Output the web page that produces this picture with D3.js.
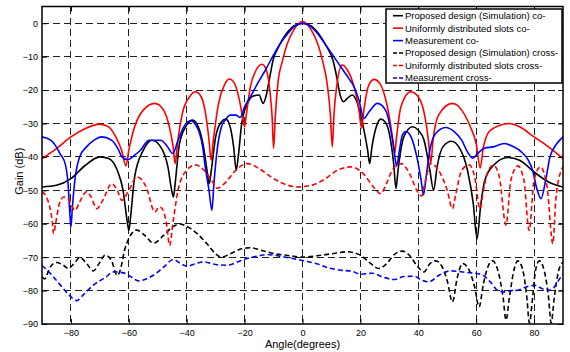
<!DOCTYPE html>
<html>
<head>
<meta charset="utf-8">
<script src="https://cdn.jsdelivr.net/npm/d3@7"></script>
<style>
  body { margin: 0; background: #fff; }
  svg { font-family: "Liberation Sans", Arial, sans-serif; }
</style>
</head>
<body>
<svg width="570" height="352"></svg>
<script>
'use strict'

// angle ticks / gain ticks
const xTicks = [-80, -60, -40, -20, 0, 20, 40, 60, 80]
const yTicks = [0, -10, -20, -30, -40, -50, -60, -70, -80, -90]

// [angle, gain dB]
const simCo = [[-90,-49],[-85,-48.5],[-80,-46.5],[-75,-42.5],[-70,-40],[-67,-40.5],[-64,-44],[-62,-50],[-60.6,-59],[-60,-62],[-59.4,-58],[-58,-46],[-55,-38],[-52,-35],[-49,-37],[-46.5,-43],[-45.2,-50],[-44.6,-52],[-44,-48],[-42.5,-36],[-40,-30.5],[-38,-29],[-36,-31],[-34,-38],[-33,-44],[-32.2,-48],[-31.5,-44],[-30,-34],[-28,-29.5],[-26.5,-28.7],[-25,-31],[-23.8,-37],[-22.9,-44],[-22.2,-40],[-21,-30],[-19,-24],[-17,-21.8],[-15,-21.5],[-13.6,-24],[-12.5,-21.5],[-11.5,-17],[-10,-10.5],[-8.5,-7.5],[-7,-5],[-5,-2.5],[-3,-0.8],[0,0],[3,-0.8],[5,-2.5],[7,-5],[9,-8],[10.5,-11],[11.8,-16],[13,-21.5],[14.2,-23.5],[15.5,-22.5],[17.2,-21.5],[19,-24],[21,-31],[22.5,-38],[23.2,-42],[24,-37],[25.5,-31],[27,-28.7],[28.5,-29.5],[30,-33],[31.5,-42],[32.3,-49.5],[33,-44],[35,-34],[38,-31],[40,-32],[42,-35],[44,-44],[45.3,-50],[46.5,-43],[48.5,-37],[51.5,-35.3],[54,-37],[57,-44],[59,-54],[60.3,-64.5],[61.5,-55],[63,-47],[66,-42.5],[71,-40.2],[75,-41],[80,-44.5],[85,-47.5],[90,-49]]
const uniCo = [[-90,-40.5],[-85,-37.5],[-80,-34],[-75,-31.5],[-70,-30.2],[-67,-31],[-64.5,-34],[-62.5,-38],[-61,-42.7],[-60,-38],[-58,-31],[-55,-26],[-51,-24],[-48,-26],[-46,-31],[-44.7,-37],[-44,-42],[-43.2,-36],[-41.5,-27],[-39,-22],[-37,-20.5],[-35,-22],[-33.5,-27],[-32.3,-35],[-31.6,-41],[-30.8,-35],[-29,-24],[-27,-18.5],[-25.3,-16.7],[-23.5,-18],[-21.8,-23],[-20.5,-29],[-20,-31],[-19.5,-28],[-18,-19],[-16,-14],[-14,-12.3],[-12.5,-14],[-11.3,-20],[-10.5,-28],[-10,-37.4],[-9.4,-28],[-8.5,-18],[-7,-11.5],[-5.2,-6],[-3,-2],[0,0.5],[3,-2],[5.2,-6],[7,-11.5],[8.5,-18],[9.6,-27],[10.3,-37],[10.9,-27],[11.8,-19],[13.7,-12.5],[15.5,-14],[17.5,-18],[19.5,-26],[20.4,-31.4],[21.2,-26],[22.7,-19],[24.7,-16.8],[26.7,-18],[28.5,-22],[30,-28],[31.2,-35],[31.8,-39],[32.5,-34],[34,-25],[37.4,-20.5],[40,-22],[42.3,-28],[43.5,-35],[44.3,-41.9],[45.1,-35],[47,-27.5],[51.8,-24],[55,-26],[58,-31],[60,-36],[61.4,-43.3],[62.5,-37],[65,-32],[71.4,-30],[75,-31],[80,-34],[85,-37],[90,-40.5]]
const measCo = [[-90,-34],[-87,-35],[-85.5,-36.4],[-83.8,-39],[-82,-42],[-81,-48],[-80.3,-58],[-80,-61],[-79.5,-55],[-78.5,-46],[-77,-40],[-74.6,-37],[-72,-35],[-69.4,-34],[-66,-35],[-63.5,-38],[-62.4,-40],[-60.5,-40.8],[-58,-39.5],[-56,-38],[-53,-35],[-49,-35],[-47,-36.5],[-44.8,-39],[-43,-35],[-41,-31],[-38.8,-29.2],[-36.5,-31],[-34.5,-37],[-33.6,-43],[-32.3,-50],[-31.3,-56],[-30.6,-48],[-29.5,-38],[-28,-31],[-26.7,-29],[-25,-27.5],[-23,-27.5],[-21.5,-28.2],[-20,-25],[-18,-22],[-15.5,-18],[-12.8,-14],[-10,-9.5],[-7.6,-6],[-5,-3],[-2.5,-0.8],[0,0],[2.5,-0.8],[5.1,-3],[8,-6.5],[10.8,-10],[14,-14],[16,-16.5],[17.8,-19],[19.5,-23],[21.2,-28.5],[23,-26.5],[25.9,-24],[28.7,-26],[30.3,-31],[31.5,-37],[32.5,-42.7],[33.5,-38],[34.5,-33.5],[35.7,-32.4],[37.5,-34],[39.5,-40],[41,-47],[41.8,-51.4],[42.7,-46],[44,-38],[46,-33],[49.5,-31.2],[52.5,-32.5],[55,-35],[57,-38.5],[58.8,-40.4],[60.5,-39],[62.8,-37.4],[66,-37],[69.7,-36],[73,-37],[75.5,-38.4],[78,-41],[79.5,-44],[80.8,-49],[82.4,-52.5],[84,-47],[85.5,-40],[87.5,-36.5],[89.4,-34.5],[90,-34]]
const simCross = [[-90,-76],[-89,-76.5],[-87.5,-73.5],[-85,-71.6],[-82.5,-72.5],[-80.9,-73.4],[-79,-72],[-76.9,-70.1],[-74.5,-72],[-72.3,-74.1],[-70,-71.5],[-68.2,-69.4],[-66,-71],[-64,-75.5],[-63,-74],[-61.5,-68],[-60,-64.4],[-57.3,-61.9],[-54.5,-63.5],[-51.5,-65.8],[-48,-63.5],[-45,-61],[-42.5,-60.1],[-40,-60.8],[-36.5,-62.9],[-33,-66],[-30,-69],[-28,-70],[-25,-69],[-21,-67.5],[-18,-67.2],[-14,-68],[-9.9,-68.9],[-5,-69.5],[0,-70],[5,-69.6],[10,-69],[15.5,-68.4],[20,-69.4],[23,-71.5],[26.4,-73.4],[29,-72],[32,-69],[34.5,-68.2],[37,-69.5],[39.5,-72.5],[42,-74.4],[44,-72],[46,-71.1],[48,-72.5],[50,-77],[51.8,-83.4],[53.5,-76],[55.3,-71.9],[57,-73],[59.5,-79],[61,-84.9],[62.5,-78],[64,-73],[65.7,-71.1],[67.5,-74],[69.3,-82],[70.3,-88.8],[71.5,-82],[73,-74],[74.4,-71.1],[76,-73.5],[77.5,-82],[78.4,-89.7],[79.5,-82],[80.5,-74],[81.8,-71.1],[83.5,-74],[85,-82],[85.9,-89.7],[87,-82],[88.5,-74],[90,-71.5]]
const uniCross = [[-90,-50.4],[-88,-53],[-86.5,-59],[-86,-63],[-85.3,-60],[-84,-54],[-82.5,-52],[-81,-52.4],[-79.5,-55],[-78.6,-56],[-77,-53.5],[-74.6,-50.4],[-73,-52],[-71.1,-55.5],[-69,-53],[-65.9,-48],[-64,-50],[-62.4,-53],[-60,-50],[-57.2,-46],[-54,-49],[-51,-56.5],[-49.5,-55],[-48.6,-55.3],[-47,-60],[-45.9,-66.5],[-44.8,-60],[-43,-50],[-40,-44],[-37,-42.4],[-34,-44],[-31,-47.5],[-29.5,-49.4],[-27,-48],[-23,-44],[-19.2,-42],[-15,-43.5],[-10,-46.5],[-5,-48.5],[-1.8,-49],[3,-48.5],[8,-46.5],[12,-44],[16.6,-43],[21,-45],[24.5,-49],[27,-51],[29,-48],[31,-44],[34,-42],[37,-45],[39.5,-50],[41.1,-51.7],[42.5,-47],[44.3,-42],[47,-44],[50,-50],[51.8,-55.5],[53,-51],[55,-44],[57.6,-42.4],[59.5,-46],[61.3,-55.5],[62.5,-50],[64.5,-43.5],[66,-42.5],[68,-46],[70.3,-60.4],[72,-47],[74.4,-42.7],[76.5,-47],[78.3,-62],[80,-47],[82.2,-43],[84.5,-49],[86.5,-66],[87.5,-53],[89.4,-44],[90,-43]]
const measCross = [[-90,-72.5],[-87,-75],[-84,-78],[-81,-81],[-78,-83],[-76,-81.5],[-72.3,-78.4],[-68,-76],[-65.3,-74.4],[-61.9,-74.7],[-59,-76],[-56.7,-77.1],[-54,-76.5],[-51.5,-75.4],[-48,-73],[-44.6,-70.7],[-42,-72],[-39.9,-72.7],[-37,-72],[-34.2,-71.4],[-30,-72.2],[-26.1,-72.4],[-22,-71.3],[-19.2,-70.4],[-15,-69.6],[-12.2,-69.2],[-8,-69.7],[-4,-70.3],[0,-71],[5,-72],[9,-73.2],[13.2,-73.9],[17,-74.2],[20,-75.1],[24,-74.8],[28,-76],[31.6,-76.7],[35,-75.8],[38.6,-75.7],[41,-76.8],[43.7,-77.4],[47,-75.5],[51.3,-74.1],[56,-74.5],[61.6,-75.1],[65,-77.5],[67.5,-80],[69.7,-80.4],[72,-80],[74.4,-79.9],[77,-79],[80.1,-78.4],[83,-79.5],[85.9,-79.9],[88,-77.5],[90,-75]]

const seriesNames = [
  'Proposed design (Simulation) co-',
  'Uniformly distributed slots co-',
  'Measurement co-',
  'Proposed design (Simulation) cross-',
  'Uniformly distributed slots cross-',
  'Measurement cross-'
]
const seriesData = [simCo, uniCo, measCo, simCross, uniCross, measCross]
const seriesColors = ['#000000', '#ff0000', '#0000ff', '#000000', '#ff0000', '#0000ff']
const seriesDashed = [false, false, false, true, true, true]

const svg = d3.select('body svg')
const plotLeft = 42
const plotRight = 563
const plotTop = 6.5
const plotBottom = 324

const xScale = d3.scaleLinear().domain([-90, 90]).range([plotLeft, plotRight])
const yScale = d3.scaleLinear().domain([-90, 5]).range([plotBottom, plotTop])

svg.append('defs').append('clipPath').attr('id', 'plotClip')
  .append('rect')
  .attr('x', plotLeft).attr('y', plotTop)
  .attr('width', plotRight - plotLeft).attr('height', plotBottom - plotTop)

// grid
const gridG = svg.append('g').classed('grid', true)
gridG.selectAll('line.vgrid')
  .data(xTicks)
  .enter().append('line').classed('vgrid', true)
  .attr('x1', (d) => xScale(d)).attr('x2', (d) => xScale(d))
  .attr('y1', plotTop).attr('y2', plotBottom)
gridG.selectAll('line.hgrid')
  .data(yTicks.filter((d) => d > -90))
  .enter().append('line').classed('hgrid', true)
  .attr('x1', plotLeft).attr('x2', plotRight)
  .attr('y1', (d) => yScale(d)).attr('y2', (d) => yScale(d))
gridG.selectAll('line')
  .style('stroke', '#222')
  .style('stroke-width', '1')
  .attr('stroke-dasharray', '7, 4')
  .attr('shape-rendering', 'crispEdges')

// curves
const line = d3.line()
  .x((d) => xScale(d[0]))
  .y((d) => yScale(d[1]))
  .curve(d3.curveMonotoneX)

const curvesG = svg.append('g').attr('clip-path', 'url(#plotClip)')
seriesData.forEach((data, i) => {
  curvesG.append('path')
    .attr('d', line(data))
    .style('fill', 'none')
    .style('stroke', seriesColors[i])
    .style('stroke-width', '1.6px')
    .style('stroke-linejoin', 'round')
    .attr('stroke-dasharray', seriesDashed[i] ? '5, 3' : null)
})

// axes (ticks pointing inward, MATLAB style)
const xAxis = d3.axisBottom(xScale).tickValues(xTicks).tickSize(-5).tickPadding(6)
const yAxis = d3.axisLeft(yScale).tickValues(yTicks).tickSize(-5).tickPadding(4)
const xAxisTop = d3.axisTop(xScale).tickValues(xTicks).tickSize(-5).tickFormat('')
const yAxisRight = d3.axisRight(yScale).tickValues(yTicks).tickSize(-5).tickFormat('')

svg.append('g').classed('xAxis', true).attr('transform', `translate(0, ${plotBottom})`).call(xAxis)
svg.append('g').classed('yAxis', true).attr('transform', `translate(${plotLeft}, 0)`).call(yAxis)
svg.append('g').classed('xAxisTop', true).attr('transform', `translate(0, ${plotTop})`).call(xAxisTop)
svg.append('g').classed('yAxisRight', true).attr('transform', `translate(${plotRight}, 0)`).call(yAxisRight)
svg.selectAll('path.domain').remove()
svg.selectAll('.tick line').style('stroke', '#000')
svg.selectAll('.tick text').style('font-size', '9px').style('fill', '#000')
  .style('font-family', '"Liberation Sans", Arial, sans-serif')

svg.append('rect')
  .attr('x', plotLeft).attr('y', plotTop)
  .attr('width', plotRight - plotLeft).attr('height', plotBottom - plotTop)
  .style('fill', 'none').style('stroke', '#000').style('stroke-width', '1.5')

// axis titles
svg.append('text')
  .attr('x', (plotLeft + plotRight) / 2).attr('y', 348)
  .attr('text-anchor', 'middle')
  .style('font-size', '11px')
  .text('Angle(degrees)')
svg.append('text')
  .attr('transform', `translate(23, ${(plotTop + plotBottom) / 2 + 6}) rotate(-90)`)
  .attr('text-anchor', 'middle')
  .style('font-size', '11px')
  .text('Gain (dB)')

// legend
const legendG = svg.append('g').classed('legend', true)
legendG.append('rect')
  .attr('x', 386).attr('y', 9)
  .attr('width', 176).attr('height', 74)
  .style('fill', '#fff').style('stroke', '#000').style('stroke-width', '1.5')
const items = legendG.selectAll('g.item')
  .data(seriesNames)
  .enter().append('g').classed('item', true)
  .attr('transform', (d, i) => `translate(0, ${15.7 + i * 12.45})`)
items.append('line')
  .attr('x1', 393).attr('x2', 403)
  .attr('y1', 0).attr('y2', 0)
  .style('stroke', (d, i) => seriesColors[i])
  .style('stroke-width', '1.6px')
  .attr('stroke-dasharray', (d, i) => seriesDashed[i] ? '4, 2' : null)
items.append('text')
  .attr('x', 405).attr('y', 3.4)
  .style('font-size', '9.5px')
  .text((d) => d)
</script>
</body>
</html>
